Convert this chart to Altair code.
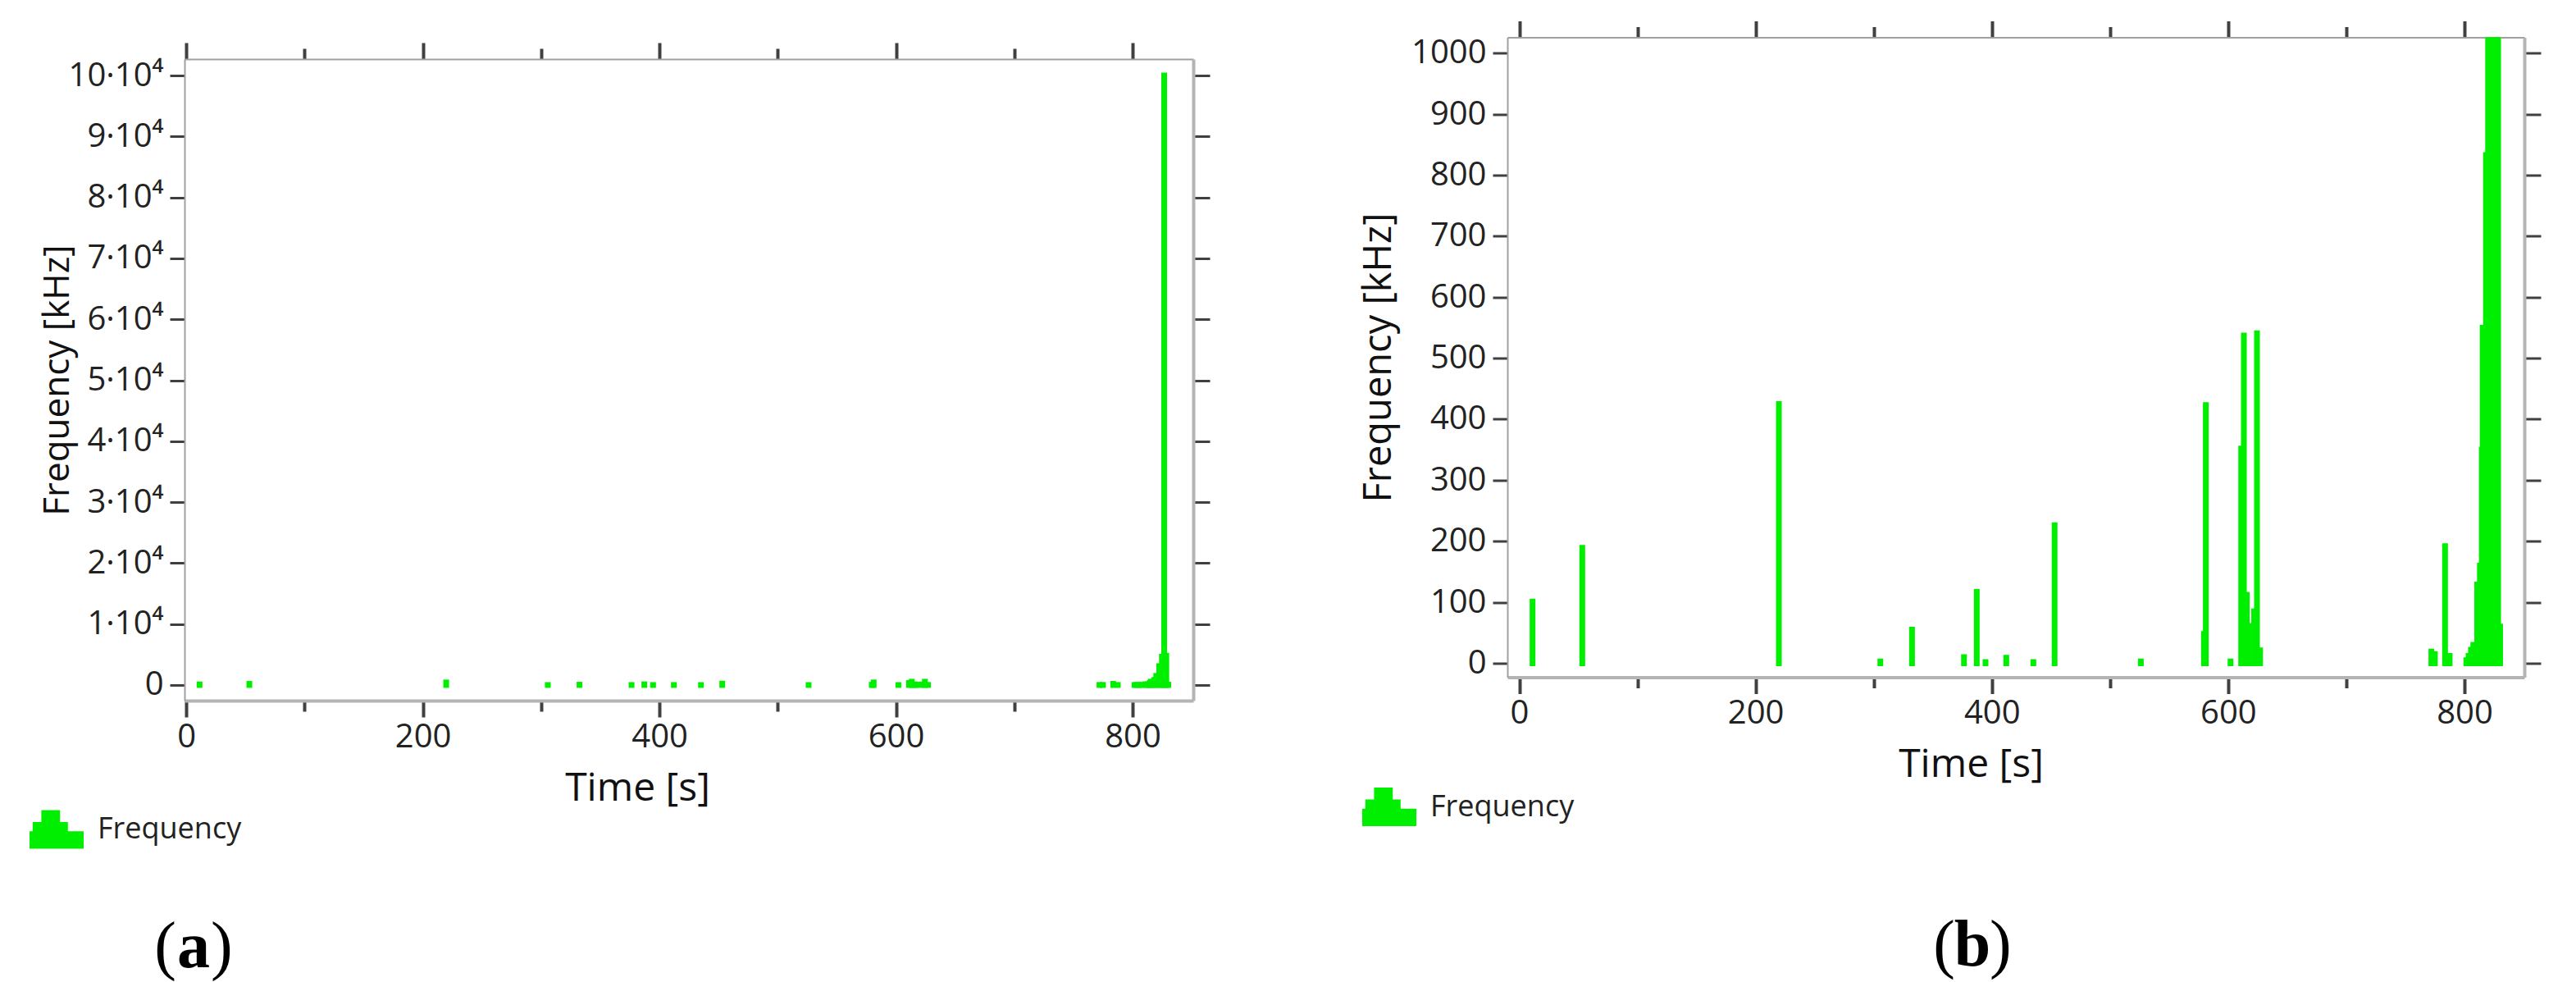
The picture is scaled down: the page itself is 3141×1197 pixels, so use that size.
import altair as alt
import pandas as pd

# ---------------- data ----------------
time_s = [11.2, 53.3, 219.7, 305.6, 332.4, 376.4, 387.2, 394.6, 412.2, 435.1, 453.1,
          526.1, 579.5, 581.1, 602.0, 611.0, 613.3, 615.8, 617.3, 622.0, 624.4, 627.0,
          772.0, 775.0, 783.6, 787.5,
          801.6, 803.5, 805.5, 807.5, 810.8, 813.1, 814.7, 815.4, 818.2, 820.0, 822.5,
          824.8, 826.7, 828.5, 830.2]
freq_khz = [101, 189, 425, 3, 55, 10, 117, 2, 9, 2, 226,
            3, 48, 423, 3, 352, 537, 112, 61, 85, 541, 21,
            19, 15, 192, 12,
            5, 12, 22, 30, 129, 160, 350, 550, 833, 1500, 3100,
            4640, 100000, 4800, 60]
series_name = "Frequency"

x_ticks = [0, 100, 200, 300, 400, 500, 600, 700, 800]
y_ticks_a = [0, 10000, 20000, 30000, 40000, 50000, 60000, 70000, 80000, 90000, 100000]
y_ticks_b = [0, 100, 200, 300, 400, 500, 600, 700, 800, 900, 1000]
panel_letters = ["a", "b"]

GREEN = "#00ee00"
FONT = "Open Sans"
ICON = ("M-1,0.7 L-1,0.1 L-0.88,0.1 L-0.88,-0.25 L-0.55,-0.25 L-0.55,-0.7 "
        "L0.1,-0.7 L0.1,-0.25 L0.4,-0.25 L0.4,0.1 L1,0.1 L1,0.7 Z")

df = pd.DataFrame({
    "Time": time_s,
    "Freq": freq_khz,
    "Base": [0] * len(time_s),
    "Series": [series_name] * len(time_s),
})

major_tick = {"condition": {"test": "datum.value % 200 === 0", "value": 20}, "value": 13}


def panel(w, h, xdom, ydom, yticks, ylabel_expr, ytitle_size, title_x,
          legend_x, legend_y, letter, letter_c, letter_y):
    xs = alt.Scale(domain=xdom, nice=False, zero=False)
    ys = alt.Scale(domain=ydom, nice=False, zero=False)
    base = alt.Chart(df)

    main = base.mark_rule(strokeWidth=7, strokeCap="square", clip=True).encode(
        x=alt.X("Time:Q", scale=xs, axis=alt.Axis(
            orient="bottom", values=x_ticks,
            labelExpr="datum.value % 200 === 0 ? datum.label : ''",
            tickSize=major_tick, tickWidth=4, tickColor="#404040",
            domainColor="#b4b4b4", domainWidth=4,
            labelFontSize=40, labelPadding=4, labelColor="#222222", labelFont=FONT,
            title="Time [s]", titleFont=FONT, titleFontSize=48, titleFontWeight="normal",
            titleColor="#111111", titleX=title_x, titleY=83, titleBaseline="top",
            grid=False)),
        y=alt.Y("Freq:Q", scale=ys, axis=alt.Axis(
            orient="left", values=yticks, labelExpr=ylabel_expr,
            tickSize=18, tickWidth=3, tickColor="#404040",
            domainColor="#a0a0a0", domainWidth=2,
            labelFontSize=40, labelPadding=8, labelColor="#222222", labelFont=FONT,
            title="Frequency [kHz]", titleFont=FONT, titleFontSize=ytitle_size,
            titleFontWeight="normal", titleColor="#111111", titleAngle=270,
            titleAlign="center", titleLimit=2000,
            titleX=-133, titleY=h / 2, titleBaseline="bottom", grid=False)),
        y2="Base:Q",
        color=alt.Color("Series:N", scale=alt.Scale(domain=[series_name], range=[GREEN]),
                        legend=alt.Legend(
                            title=None, orient="none", legendX=legend_x, legendY=legend_y,
                            symbolType=ICON, symbolSize=4096, symbolFillColor=GREEN,
                            symbolStrokeColor="#00a800", symbolStrokeWidth=2,
                            symbolOpacity=1, labelFont=FONT, labelFontSize=36,
                            labelLimit=600, labelColor="#222222", labelOffset=17,
                            padding=0)),
    )

    frame = base.mark_point(opacity=0, clip=True).encode(
        x=alt.X("Time:Q", scale=xs, axis=alt.Axis(
            orient="top", values=x_ticks, labels=False, title=None,
            tickSize=major_tick, tickWidth=4, tickColor="#404040",
            domainColor="#a0a0a0", domainWidth=2, grid=False)),
        y=alt.Y("Freq:Q", scale=ys, axis=alt.Axis(
            orient="right", values=yticks, labels=False, title=None,
            tickSize=20, tickWidth=3, tickColor="#404040",
            domainColor="#b4b4b4", domainWidth=4, grid=False)),
    )

    lab = pd.DataFrame({"l": ["("], "m": [letter], "r": [")"]})
    lbase = alt.Chart(lab)
    lp = lbase.mark_text(font="Liberation Serif", fontSize=80, align="right",
                         baseline="alphabetic", color="#000000").encode(
        x=alt.value(letter_c - 21), y=alt.value(letter_y), text="l:N")
    lm = lbase.mark_text(font="Liberation Serif", fontSize=80, fontWeight="bold",
                         align="center", baseline="alphabetic", color="#000000").encode(
        x=alt.value(letter_c), y=alt.value(letter_y), text="m:N")
    rp = lbase.mark_text(font="Liberation Serif", fontSize=80, align="left",
                         baseline="alphabetic", color="#000000").encode(
        x=alt.value(letter_c + 21), y=alt.value(letter_y), text="r:N")

    return alt.layer(main, frame, lp, lm, rp).resolve_axis(
        x="independent", y="independent").properties(width=w, height=h)


label_a = "datum.value === 0 ? '0' : format(datum.value / 10000, 'd') + '·10⁴'"
label_b = "format(datum.value, 'd')"

pa = panel(1230, 782, [-1.5, 851.3], [-2560, 102700], y_ticks_a, label_a, 44, 552,
           -189, 906, panel_letters[0], 11, 1107)
pb = panel(1240, 780, [-10.1, 850.7], [-23, 1026], y_ticks_b, label_b, 47, 565,
           -177, 905, panel_letters[1], 567, 1131)

# empty 1px strip above panel (a): panel (a) sits lower on the page than panel (b)
spacer = alt.Chart(pd.DataFrame({"s": [0]})).mark_rect(opacity=0).encode(
    x=alt.value(0), x2=alt.value(1), y=alt.value(0), y2=alt.value(1)
).properties(width=1230, height=1)
left_col = alt.vconcat(spacer, pa, spacing=3.5).resolve_scale(color="independent")

chart = alt.hconcat(left_col, pb, spacing=180).resolve_scale(
    x="independent", y="independent", color="independent"
).resolve_legend(color="independent").properties(
    padding={"top": 15.5, "left": 28, "right": 5, "bottom": 0}
).configure(background="white").configure_view(stroke="transparent", strokeWidth=0)

chart.save("out.html", embed_options={"renderer": "svg", "actions": False})
